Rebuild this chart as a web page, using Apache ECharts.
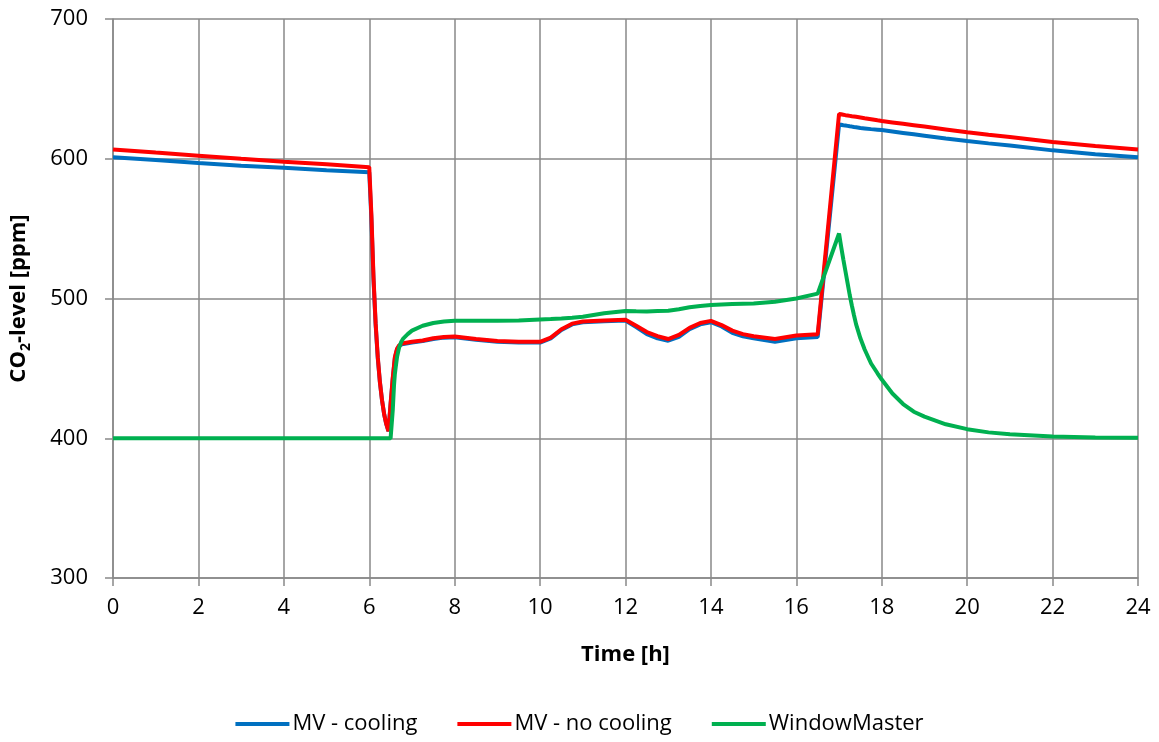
<!DOCTYPE html>
<html>
<head>
<meta charset="utf-8">
<script src="https://cdn.jsdelivr.net/npm/echarts@6/dist/echarts.min.js"></script>
<style>
  html, body { margin: 0; padding: 0; background: #fff; }
  #chart { width: 1159px; height: 742px; }
</style>
</head>
<body>
<div id="chart"></div>
<script>
// Time of day [h]
const hours = [
  0, 1, 2, 3, 4, 5, 6,
  6.05, 6.1, 6.15, 6.2, 6.25, 6.3, 6.35, 6.4, 6.45, 6.5, 6.52,
  6.55, 6.58, 6.6, 6.62, 6.65, 6.7, 6.75, 6.8, 6.9, 7, 7.25, 7.5, 7.75, 8,
  8.5, 9, 9.5, 10, 10.25, 10.5, 10.75, 11, 11.5, 12,
  12.25, 12.5, 12.75, 13, 13.25, 13.5, 13.75, 14,
  14.25, 14.5, 14.75, 15, 15.5, 16, 16.5, 17,
  17.05, 17.1, 17.15, 17.2, 17.25, 17.3, 17.35, 17.4, 17.5, 17.6, 17.75, 17.9,
  18, 18.25, 18.5, 18.75, 19, 19.5, 20, 20.5, 21, 22, 23, 24
];

// CO2 level [ppm], mechanical ventilation with cooling
const mvCooling = [
  601, 599.1, 596.9, 595, 593.6, 591.8, 590.3,
  557, 513, 481, 457, 440, 427, 417, 410, 405, 424.5, 431.5,
  442.5, 451.5, 457.5, 460, 463.5, 466, 467, 467.5, 468, 468.5, 469.5, 471, 472, 472.3,
  470.5, 469.1, 468.5, 468.5, 471.5, 477.5, 481.5, 483, 483.8, 484.3,
  479.5, 474.5, 471.5, 469.8, 472.5, 478, 481.5, 483,
  480, 475.5, 473, 471.5, 469, 471.5, 472.5, 624.5,
  624.3, 624, 623.8, 623.5, 623.2, 623, 622.7, 622.5, 622, 621.7, 621.2, 620.8,
  620.5, 619.5, 618.5, 617.5, 616.5, 614.5, 612.7, 611, 609.5, 606, 603.3, 601
];

// CO2 level [ppm], mechanical ventilation without cooling
const mvNoCooling = [
  606.7, 604.4, 602.2, 600, 597.9, 596, 594,
  560, 515, 482, 458, 440, 427, 417, 410, 405, 425, 432,
  443, 452, 458, 460.5, 464, 466.5, 467.5, 468, 468.5, 469, 470, 471.5, 472.5, 472.8,
  471, 469.6, 469, 469, 472, 478, 482, 483.5, 484.3, 484.8,
  480.5, 476, 473, 471, 474, 479, 482.5, 484,
  481, 477, 474.5, 473, 471, 473.5, 474.5, 632,
  631.8, 631.5, 631.2, 631, 630.7, 630.4, 630.2, 630, 629.5, 629, 628.3, 627.5,
  627, 626, 625, 624, 623, 621, 619, 617.2, 615.5, 612, 609.2, 606.7
];

// CO2 level [ppm], natural ventilation (WindowMaster)
const windowMaster = [
  400, 400, 400, 400, 400, 400, 400,
  400, 400, 400, 400, 400, 400, 400, 400, 400, 400, 400.5,
  420, 438, 446, 451, 458, 465, 469, 471.5, 474.5, 477, 480.5, 482.5, 483.5, 484,
  484, 484, 484.3, 485, 485.3, 485.7, 486.2, 487, 489.5, 491,
  490.8, 490.7, 491, 491.3, 492.3, 493.7, 494.7, 495.3,
  495.7, 496, 496.3, 496.5, 497.7, 500, 503.5, 546.5,
  537, 528, 519.5, 511, 502.5, 495, 488, 481.5, 471.5, 463.5, 453.5, 446.5,
  442, 432, 424.5, 419, 415.5, 410, 406.5, 404.2, 402.8, 401.2, 400.5, 400.3
];

const seriesNames = ['MV - cooling', 'MV - no cooling', 'WindowMaster'];
const seriesColors = ['#0070C0', '#FF0000', '#00B050'];
const seriesValues = [mvCooling, mvNoCooling, windowMaster];

const gridColor = '#898989';
const font = '"Open Sans", "Liberation Sans", sans-serif';

const chart = echarts.init(document.getElementById('chart'), null, { renderer: 'canvas' });

chart.setOption({
  animation: false,
  backgroundColor: '#ffffff',
  grid: { left: 109, right: 21, top: 19, bottom: 164, containLabel: false },
  xAxis: {
    type: 'value',
    min: 0,
    max: 24,
    interval: 2,
    name: 'Time [h]',
    nameLocation: 'middle',
    nameGap: 66,
    nameTextStyle: { fontFamily: font, fontSize: 22, fontWeight: 'bold', color: '#000' },
    axisLine: { show: true, lineStyle: { color: gridColor, width: 1.5 } },
    axisTick: { show: true, inside: false, length: 8, lineStyle: { color: gridColor, width: 1.5 } },
    axisLabel: { fontFamily: font, fontSize: 22, color: '#000', margin: 19 },
    splitLine: { show: true, lineStyle: { color: gridColor, width: 1.5 } }
  },
  yAxis: {
    type: 'value',
    min: 300,
    max: 700,
    interval: 100,
    name: '{a|CO}{s|2}{a|-level [ppm]}',
    nameLocation: 'middle',
    nameGap: 80,
    nameRotate: 90,
    nameTextStyle: {
      fontFamily: font, fontSize: 22, fontWeight: 'bold', color: '#000',
      rich: {
        a: { fontFamily: font, fontSize: 22, fontWeight: 'bold', color: '#000', lineHeight: 28, verticalAlign: 'middle' },
        s: { fontFamily: font, fontSize: 14, fontWeight: 'bold', color: '#000', lineHeight: 14, verticalAlign: 'bottom' }
      }
    },
    axisLine: { show: true, lineStyle: { color: gridColor, width: 1.5 } },
    axisTick: { show: true, inside: false, length: 8, lineStyle: { color: gridColor, width: 1.5 } },
    axisLabel: { fontFamily: font, fontSize: 22, color: '#000', margin: 25 },
    splitLine: { show: true, lineStyle: { color: gridColor, width: 1.5 } }
  },
  legend: {
    bottom: 2,
    left: 'center',
    icon: 'rect',
    itemWidth: 54,
    itemHeight: 4,
    itemGap: 40,
    textStyle: { fontFamily: font, fontSize: 22, color: '#000', padding: [0, 0, 0, -2] },
    data: seriesNames
  },
  series: seriesNames.map((name, i) => ({
    name: name,
    type: 'line',
    showSymbol: false,
    symbol: 'none',
    color: seriesColors[i],
    lineStyle: { width: 4, color: seriesColors[i] },
    data: hours.map((h, k) => [h, seriesValues[i][k]])
  }))
});
</script>
</body>
</html>
